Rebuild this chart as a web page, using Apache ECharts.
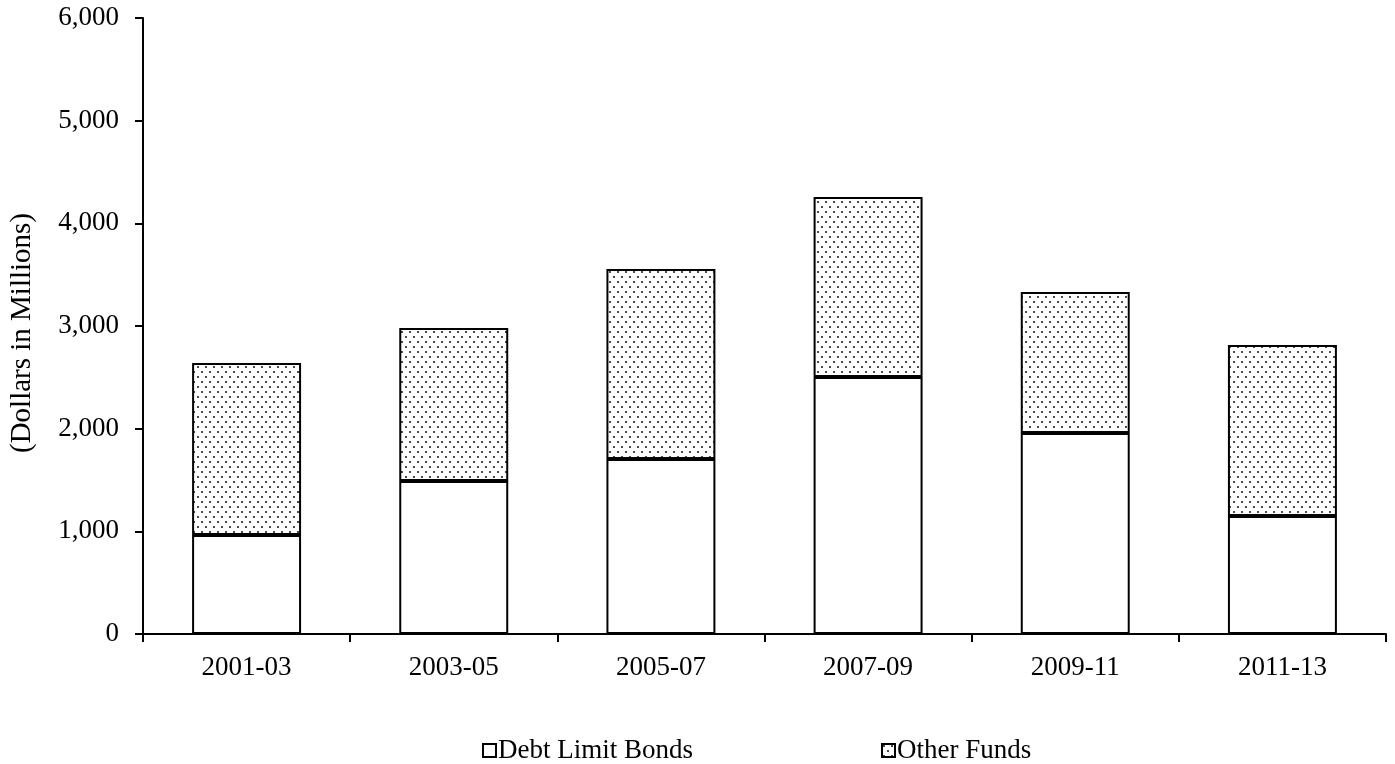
<!DOCTYPE html>
<html><head><meta charset="utf-8">
<script src="https://cdn.jsdelivr.net/npm/echarts@6/dist/echarts.min.js"></script>
<style>html,body{margin:0;padding:0;background:#fff}#c{width:1395px;height:764px}</style>
</head><body><div id="c"></div>
<script>
const categories = ['2001-03','2003-05','2005-07','2007-09','2009-11','2011-13'];
const debtLimitBonds = [965, 1490, 1705, 2503, 1958, 1149];
const otherFunds = [1675, 1490, 1850, 1753, 1373, 1666];
const yTicks = [0,1000,2000,3000,4000,5000,6000];

function makePattern(){
  const c = document.createElement('canvas');
  c.width = 8; c.height = 10;
  const g = c.getContext('2d');
  g.fillStyle = '#fff'; g.fillRect(0,0,8,10);
  g.fillStyle = '#4a4a4a';
  g.fillRect(1,1,2,2);
  g.fillRect(5,6,2,2);
  return c;
}
const pat = {image: makePattern(), repeat: 'repeat'};
const font = 'Liberation Serif';
const fs = 27;
const chart = echarts.init(document.getElementById('c'));
chart.setOption({
  animation:false,
  textStyle:{fontFamily:font, color:'#000'},
  grid:{left:142, right:9, top:18, bottom:130, containLabel:false},
  legend:{
    top:737, left:482, padding:0, itemGap:188, itemWidth:13, itemHeight:13,
    itemStyle:{borderColor:'#000', borderWidth:2},
    textStyle:{fontFamily:font, fontSize:fs, color:'#000', padding:[0,0,0,-3]},
    data:[{name:'Debt Limit Bonds', icon:'rect'},{name:'Other Funds', icon:'rect'}]
  },
  xAxis:{
    type:'category', data:categories,
    axisLine:{lineStyle:{color:'#000', width:2}},
    axisTick:{show:true, length:8, lineStyle:{color:'#000', width:2}},
    axisLabel:{fontFamily:font, fontSize:fs, color:'#000', margin:20}
  },
  yAxis:{
    type:'value', min:yTicks[0], max:yTicks[yTicks.length-1], interval:1000,
    name:'(Dollars in Millions)', nameLocation:'middle', nameGap:106, nameRotate:90,
    nameTextStyle:{fontFamily:font, fontSize:29, color:'#000', padding:[0,14,0,0]},
    axisLine:{show:true, lineStyle:{color:'#000', width:2}},
    axisTick:{show:true, length:8, lineStyle:{color:'#000', width:2}},
    splitLine:{show:false},
    axisLabel:{fontFamily:font, fontSize:fs, color:'#000', margin:24,
      formatter:v=>v.toLocaleString('en-US')}
  },
  series:[
    {name:'Debt Limit Bonds', type:'bar', stack:'t', data:debtLimitBonds, barWidth:'52.6%',
     itemStyle:{color:'#fff', borderColor:'#000', borderWidth:2}},
    {name:'Other Funds', type:'bar', stack:'t', data:otherFunds, barWidth:'52.6%',
     itemStyle:{color:pat, borderColor:'#000', borderWidth:2}}
  ]
});
</script></body></html>
